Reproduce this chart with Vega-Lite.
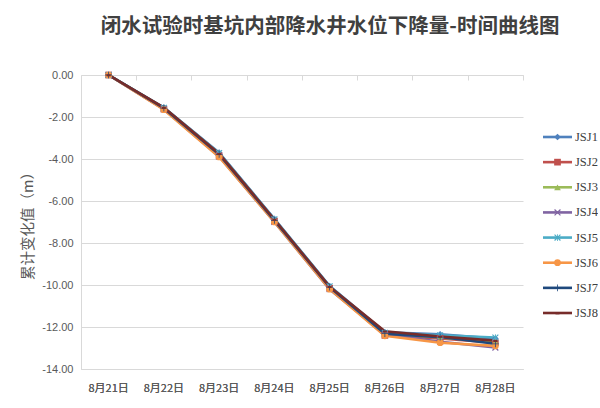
{
  "$schema": "https://vega.github.io/schema/vega-lite/v6.json",
  "background": "white",
  "padding": {"left": 20, "top": 16, "right": 0, "bottom": 0},
  "title": {
    "text": "闭水试验时基坑内部降水井水位下降量-时间曲线图",
    "font": "Noto Sans CJK SC",
    "fontSize": 20.5,
    "fontWeight": "bold",
    "color": "#404040",
    "anchor": "start",
    "dx": 80,
    "offset": 32
  },
  "datasets": {
    "wells": [
      {"date": "8月21日", "series": "JSJ1", "value": 0},
      {"date": "8月22日", "series": "JSJ1", "value": -1.55},
      {"date": "8月23日", "series": "JSJ1", "value": -3.7},
      {"date": "8月24日", "series": "JSJ1", "value": -6.85},
      {"date": "8月25日", "series": "JSJ1", "value": -10.05},
      {"date": "8月26日", "series": "JSJ1", "value": -12.25},
      {"date": "8月27日", "series": "JSJ1", "value": -12.35},
      {"date": "8月28日", "series": "JSJ1", "value": -12.55},
      {"date": "8月21日", "series": "JSJ2", "value": 0},
      {"date": "8月22日", "series": "JSJ2", "value": -1.62},
      {"date": "8月23日", "series": "JSJ2", "value": -3.85},
      {"date": "8月24日", "series": "JSJ2", "value": -6.95},
      {"date": "8月25日", "series": "JSJ2", "value": -10.15},
      {"date": "8月26日", "series": "JSJ2", "value": -12.4},
      {"date": "8月27日", "series": "JSJ2", "value": -12.55},
      {"date": "8月28日", "series": "JSJ2", "value": -12.75},
      {"date": "8月21日", "series": "JSJ3", "value": 0},
      {"date": "8月22日", "series": "JSJ3", "value": -1.58},
      {"date": "8月23日", "series": "JSJ3", "value": -3.75},
      {"date": "8月24日", "series": "JSJ3", "value": -6.9},
      {"date": "8月25日", "series": "JSJ3", "value": -10.1},
      {"date": "8月26日", "series": "JSJ3", "value": -12.3},
      {"date": "8月27日", "series": "JSJ3", "value": -12.5},
      {"date": "8月28日", "series": "JSJ3", "value": -12.7},
      {"date": "8月21日", "series": "JSJ4", "value": 0},
      {"date": "8月22日", "series": "JSJ4", "value": -1.63},
      {"date": "8月23日", "series": "JSJ4", "value": -3.88},
      {"date": "8月24日", "series": "JSJ4", "value": -7.0},
      {"date": "8月25日", "series": "JSJ4", "value": -10.2},
      {"date": "8月26日", "series": "JSJ4", "value": -12.35},
      {"date": "8月27日", "series": "JSJ4", "value": -12.7},
      {"date": "8月28日", "series": "JSJ4", "value": -12.98},
      {"date": "8月21日", "series": "JSJ5", "value": 0},
      {"date": "8月22日", "series": "JSJ5", "value": -1.56},
      {"date": "8月23日", "series": "JSJ5", "value": -3.72},
      {"date": "8月24日", "series": "JSJ5", "value": -6.87},
      {"date": "8月25日", "series": "JSJ5", "value": -10.06},
      {"date": "8月26日", "series": "JSJ5", "value": -12.28},
      {"date": "8月27日", "series": "JSJ5", "value": -12.4},
      {"date": "8月28日", "series": "JSJ5", "value": -12.5},
      {"date": "8月21日", "series": "JSJ6", "value": 0},
      {"date": "8月22日", "series": "JSJ6", "value": -1.65},
      {"date": "8月23日", "series": "JSJ6", "value": -3.9},
      {"date": "8月24日", "series": "JSJ6", "value": -7.0},
      {"date": "8月25日", "series": "JSJ6", "value": -10.2},
      {"date": "8月26日", "series": "JSJ6", "value": -12.42},
      {"date": "8月27日", "series": "JSJ6", "value": -12.75},
      {"date": "8月28日", "series": "JSJ6", "value": -12.9},
      {"date": "8月21日", "series": "JSJ7", "value": 0},
      {"date": "8月22日", "series": "JSJ7", "value": -1.58},
      {"date": "8月23日", "series": "JSJ7", "value": -3.78},
      {"date": "8月24日", "series": "JSJ7", "value": -6.92},
      {"date": "8月25日", "series": "JSJ7", "value": -10.1},
      {"date": "8月26日", "series": "JSJ7", "value": -12.32},
      {"date": "8月27日", "series": "JSJ7", "value": -12.48},
      {"date": "8月28日", "series": "JSJ7", "value": -12.8},
      {"date": "8月21日", "series": "JSJ8", "value": 0},
      {"date": "8月22日", "series": "JSJ8", "value": -1.55},
      {"date": "8月23日", "series": "JSJ8", "value": -3.75},
      {"date": "8月24日", "series": "JSJ8", "value": -6.88},
      {"date": "8月25日", "series": "JSJ8", "value": -10.08},
      {"date": "8月26日", "series": "JSJ8", "value": -12.2},
      {"date": "8月27日", "series": "JSJ8", "value": -12.45},
      {"date": "8月28日", "series": "JSJ8", "value": -12.65}
    ],
    "names": [
      {"series": "JSJ1"}, {"series": "JSJ2"}, {"series": "JSJ3"}, {"series": "JSJ4"},
      {"series": "JSJ5"}, {"series": "JSJ6"}, {"series": "JSJ7"}, {"series": "JSJ8"}
    ]
  },
  "config": {
    "view": {"stroke": null},
    "axis": {"labelColor": "#595959", "titleColor": "#595959", "gridColor": "#d9d9d9", "domainColor": "#d9d9d9"}
  },
  "hconcat": [
    {
      "width": 442,
      "height": 294,
      "data": {"name": "wells"},
      "encoding": {
        "x": {
          "field": "date", "type": "ordinal", "sort": null,
          "axis": {
            "orient": "bottom", "title": null, "labelAngle": 0, "ticks": false,
            "labelFont": "Noto Sans CJK SC", "labelFontSize": 11, "labelPadding": 13,
            "domainColor": "#d9d9d9", "grid": false
          }
        },
        "y": {
          "field": "value", "type": "quantitative",
          "scale": {"domain": [-14, 0], "nice": false},
          "axis": {
            "values": [0, -2, -4, -6, -8, -10, -12, -14],
            "labelExpr": "datum.value < 0 ? '-' + format(-datum.value, '.2f') : format(datum.value, '.2f')",
            "labelFont": "Liberation Sans", "labelFontSize": 11, "labelPadding": 8,
            "ticks": false, "grid": true,
            "title": "累计变化值（m）", "titleFont": "Noto Sans CJK SC", "titleFontSize": 14.5,
            "titleFontWeight": "normal", "titlePadding": 6
          }
        },
        "color": {
          "field": "series", "type": "nominal", "legend": null,
          "scale": {
            "domain": ["JSJ1", "JSJ2", "JSJ3", "JSJ4", "JSJ5", "JSJ6", "JSJ7", "JSJ8"],
            "range": ["#4F81BD", "#C0504D", "#9BBB59", "#8064A2", "#4BACC6", "#F79646", "#1F497D", "#772C2A"]
          }
        }
      },
      "layer": [
        {
          "mark": {"type": "rule", "color": "#d9d9d9"},
          "encoding": {
            "x": {
              "field": "date", "type": "ordinal", "sort": null,
              "axis": {"orient": "top", "labels": false, "title": null, "ticks": true, "tickSize": -5, "tickColor": "#d9d9d9", "tickOffset": 27.6, "domain": true, "grid": false}
            },
            "y": {"datum": 0},
            "color": {"value": "#d9d9d9"},
            "opacity": {"value": 0}
          }
        },
        {
          "mark": {"type": "line", "strokeWidth": 2.6},
          "encoding": {}
        },
        {
          "mark": {"type": "point", "filled": true, "size": 45, "opacity": 1},
          "encoding": {
            "shape": {
              "field": "series", "type": "nominal", "legend": null,
              "scale": {
                "domain": ["JSJ1", "JSJ2", "JSJ3", "JSJ4", "JSJ5", "JSJ6", "JSJ7", "JSJ8"],
                "range": [
                  "diamond", "square", "triangle-up",
                  "M-1,-0.75L-0.75,-1L0,-0.25L0.75,-1L1,-0.75L0.25,0L1,0.75L0.75,1L0,0.25L-0.75,1L-1,0.75L-0.25,0Z",
                  "M-1,-0.75L-0.75,-1L0,-0.25L0.75,-1L1,-0.75L0.25,0L1,0.75L0.75,1L0,0.25L-0.75,1L-1,0.75L-0.25,0ZM-0.12,-1L0.12,-1L0.12,1L-0.12,1Z",
                  "circle",
                  "M-1,-0.12L1,-0.12L1,0.12L-1,0.12ZM-0.12,-1L0.12,-1L0.12,1L-0.12,1Z",
                  "M-0.6,-0.2L0.6,-0.2L0.6,0.4L-0.6,0.4Z"
                ]
              }
            }
          }
        }
      ]
    },
    {
      "width": 29,
      "height": 294,
      "data": {"name": "names"},
      "encoding": {
        "y": {
          "field": "series", "type": "ordinal", "sort": null,
          "scale": {"type": "point", "range": [62, 238], "padding": 0},
          "axis": null
        },
        "color": {
          "field": "series", "type": "nominal", "legend": null,
          "scale": {
            "domain": ["JSJ1", "JSJ2", "JSJ3", "JSJ4", "JSJ5", "JSJ6", "JSJ7", "JSJ8"],
            "range": ["#4F81BD", "#C0504D", "#9BBB59", "#8064A2", "#4BACC6", "#F79646", "#1F497D", "#772C2A"]
          }
        }
      },
      "layer": [
        {
          "mark": {"type": "rule", "strokeWidth": 2.6},
          "encoding": {
            "x": {"datum": 0, "type": "quantitative", "scale": {"domain": [0, 1]}, "axis": null},
            "x2": {"datum": 1}
          }
        },
        {
          "mark": {"type": "point", "filled": true, "size": 45, "opacity": 1},
          "encoding": {
            "x": {"datum": 0.5, "type": "quantitative"},
            "shape": {
              "field": "series", "type": "nominal", "legend": null,
              "scale": {
                "domain": ["JSJ1", "JSJ2", "JSJ3", "JSJ4", "JSJ5", "JSJ6", "JSJ7", "JSJ8"],
                "range": [
                  "diamond", "square", "triangle-up",
                  "M-1,-0.75L-0.75,-1L0,-0.25L0.75,-1L1,-0.75L0.25,0L1,0.75L0.75,1L0,0.25L-0.75,1L-1,0.75L-0.25,0Z",
                  "M-1,-0.75L-0.75,-1L0,-0.25L0.75,-1L1,-0.75L0.25,0L1,0.75L0.75,1L0,0.25L-0.75,1L-1,0.75L-0.25,0ZM-0.12,-1L0.12,-1L0.12,1L-0.12,1Z",
                  "circle",
                  "M-1,-0.12L1,-0.12L1,0.12L-1,0.12ZM-0.12,-1L0.12,-1L0.12,1L-0.12,1Z",
                  "M-0.6,-0.2L0.6,-0.2L0.6,0.4L-0.6,0.4Z"
                ]
              }
            }
          }
        },
        {
          "mark": {"type": "text", "align": "left", "dx": 3, "font": "Liberation Sans Narrow", "fontSize": 12.5, "color": "#404040"},
          "encoding": {
            "x": {"datum": 1, "type": "quantitative"},
            "text": {"field": "series"},
            "color": {"value": "#404040"}
          }
        }
      ]
    }
  ],
  "spacing": 17
}
